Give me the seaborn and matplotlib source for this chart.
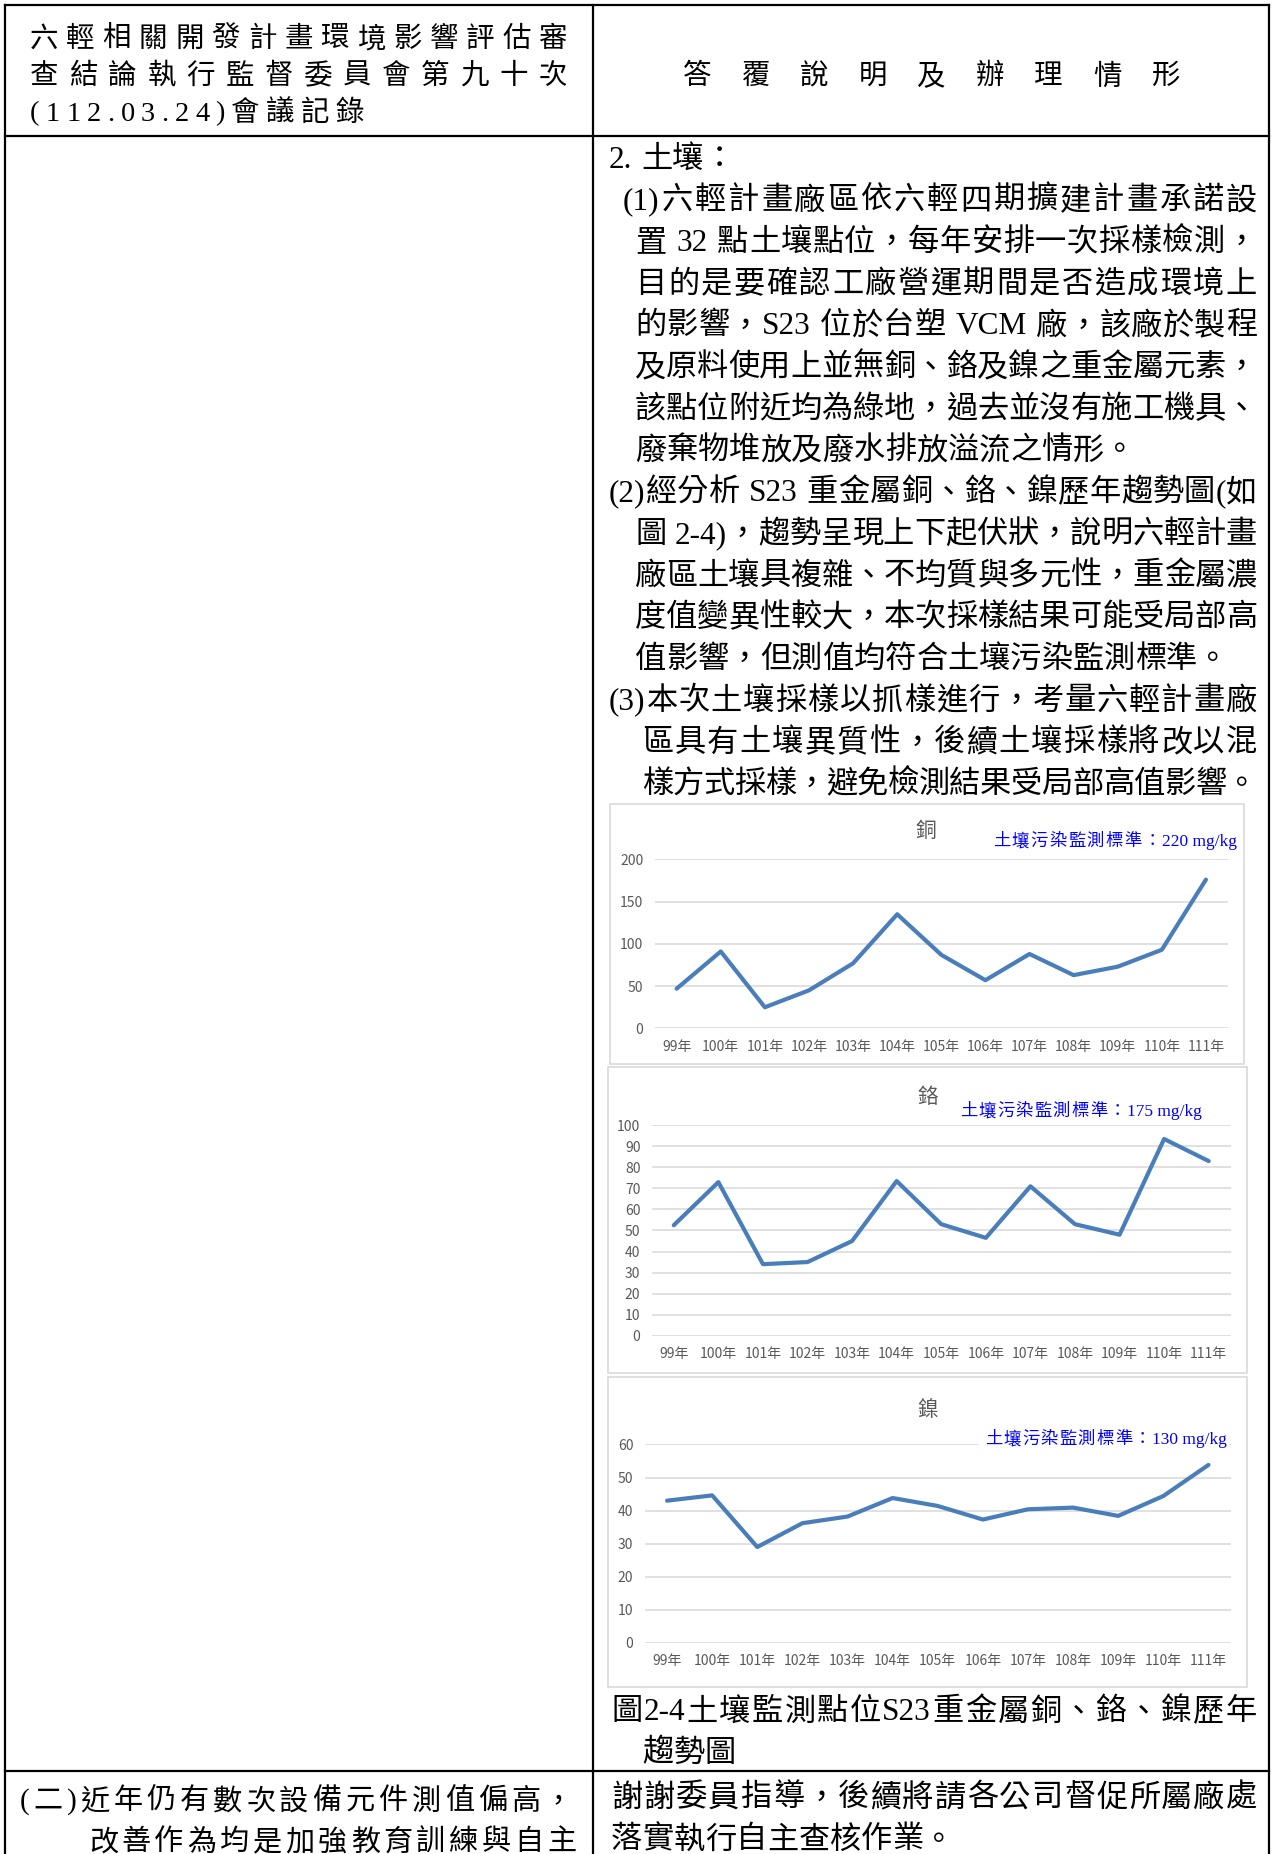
import re
import matplotlib.pyplot as plt
from matplotlib.patches import Rectangle
import seaborn as sns
import pandas as pd

# chart data
years = ['99年', '100年', '101年', '102年', '103年', '104年', '105年',
         '106年', '107年', '108年', '109年', '110年', '111年']
copper = [47, 91, 25, 45, 77, 135, 87, 57, 88, 63, 73, 93, 176]
chromium = [52.5, 73, 34, 35, 45, 73.5, 53, 46.5, 71, 53, 48, 93.5, 83]
nickel = [43, 44.6, 29, 36.2, 38.2, 43.8, 41.4, 37.3, 40.4, 40.9, 38.4, 44.4, 53.8]
metal_names = ['銅', '鉻', '鎳']
standards = ['220', '175', '130']
y_max = [200, 100, 60]
y_step = [50, 10, 10]

header_left = ['六輕相關開發計畫環境影響評估審', '查結論執行監督委員會第九十次', '(112.03.24)會議記錄']
header_right = '答覆說明及辦理情形'
body_lines = [
    '2. 土壤：',
    '(1)六輕計畫廠區依六輕四期擴建計畫承諾設',
    '置 32 點土壤點位，每年安排一次採樣檢測，',
    '目的是要確認工廠營運期間是否造成環境上',
    '的影響，S23 位於台塑 VCM 廠，該廠於製程',
    '及原料使用上並無銅、鉻及鎳之重金屬元素，',
    '該點位附近均為綠地，過去並沒有施工機具、',
    '廢棄物堆放及廢水排放溢流之情形。',
    '(2)經分析 S23 重金屬銅、鉻、鎳歷年趨勢圖(如',
    '圖 2-4)，趨勢呈現上下起伏狀，說明六輕計畫',
    '廠區土壤具複雜、不均質與多元性，重金屬濃',
    '度值變異性較大，本次採樣結果可能受局部高',
    '值影響，但測值均符合土壤污染監測標準。',
    '(3)本次土壤採樣以抓樣進行，考量六輕計畫廠',
    '區具有土壤異質性，後續土壤採樣將改以混',
    '樣方式採樣，避免檢測結果受局部高值影響。',
]
body_x = [609, 623, 635, 635, 635, 635, 635, 635, 609, 635, 635, 635, 635, 609, 642, 642]
body_justify = [False, True, True, True, True, True, True, False,
                True, True, True, True, False, True, True, True]
caption = ['圖2-4土壤監測點位S23重金屬銅、鉻、鎳歷年', '趨勢圖']
row2_left = ['(二)近年仍有數次設備元件測值偏高，', '改善作為均是加強教育訓練與自主']
row2_right = ['謝謝委員指導，後續將請各公司督促所屬廠處', '落實執行自主查核作業。']

sns.set_theme(style='white')
plt.rcParams['font.family'] = ['Noto Sans CJK TC', 'DejaVu Sans']
BODY = ['Liberation Serif', 'Noto Sans CJK TC']

W, H = 1273, 1854
DY = 4  # small downward nudge for all page text
fig = plt.figure(figsize=(W / 100, H / 100), dpi=100)
fig.patch.set_facecolor('white')

# page layer in pixel coordinates, drawn above the charts
page = fig.add_axes([0, 0, 1, 1])
page.set_xlim(0, W)
page.set_ylim(H, 0)
page.axis('off')
page.patch.set_visible(False)
page.set_zorder(5)
renderer = fig.canvas.get_renderer()


def put_line(s, x0, y, size, x1=None, fam=BODY, color='black', per_char=False):
    if per_char:
        toks = list(s)
    else:
        toks = re.findall(r'[!-~](?:[ -~]*[!-~])?| +|.', s)
    items = []
    for t in toks:
        if t.strip() == '':
            items.append((None, size * 100 / 72 * 0.28 * len(t)))
            continue
        txt = page.text(0, y + DY, t, fontsize=size, family=fam, color=color,
                        va='center', ha='left')
        items.append((txt, txt.get_window_extent(renderer).width))
    gap = 0
    if x1 is not None and len(items) > 1:
        gap = (x1 - x0 - sum(w for _, w in items)) / (len(items) - 1)
    x = x0
    for txt, w in items:
        if txt is not None:
            txt.set_x(x)
        x += w + gap


# table rules
lw = 1.6
for xs, ys in [([5, 1269], [5, 5]), ([5, 1269], [136, 136]), ([5, 1269], [1771, 1771]),
               ([5, 5], [5, H]), ([1269, 1269], [5, H]), ([593, 593], [5, H])]:
    page.plot(xs, ys, color='black', lw=lw, solid_capstyle='projecting')

# header
put_line(header_left[0], 30, 36, 20.5, x1=567, per_char=True)
put_line(header_left[1], 30, 73, 20.5, x1=567, per_char=True)
put_line(header_left[2], 30, 110, 20.5, x1=364, per_char=True)
put_line(header_right, 683, 73, 20.5, x1=1180, per_char=True)

# body text
for i, (s, x0, just) in enumerate(zip(body_lines, body_x, body_justify)):
    put_line(s, x0, 156 + i * 41.7, 22.5, x1=1257 if just else None)

put_line(caption[0], 611, 1709, 22.5, x1=1257)
put_line(caption[1], 642, 1750, 22.5)
put_line(row2_left[0], 20, 1798, 21, x1=573, per_char=True)
put_line(row2_left[1], 89, 1839, 21, x1=576, per_char=True)
put_line(row2_right[0], 611, 1795, 22.5, x1=1257)
put_line(row2_right[1], 611, 1837, 22.5)

# charts
series = [copper, chromium, nickel]
frames = [(610, 804, 1244, 1064), (608, 1067, 1247, 1373), (608, 1377, 1247, 1687)]
plot_boxes = [(654.6, 859.3, 1228, 1028.4), (651.5, 1125.3, 1231, 1335.7), (644.5, 1444.4, 1231, 1643)]
title_pos = [(926, 827), (928, 1093), (928, 1406)]
note_pos = [(993, 1237, 838), (960, 1202, 1108), (985, 1227, 1436)]
line_color = '#4A7EBB'

for k in range(3):
    fx0, fy0, fx1, fy1 = frames[k]
    page.add_patch(Rectangle((fx0, fy0), fx1 - fx0, fy1 - fy0, fill=False,
                             edgecolor='#D9D9D9', lw=1.2))
    x0, y0, x1, y1 = plot_boxes[k]
    ax = fig.add_axes([x0 / W, 1 - y1 / H, (x1 - x0) / W, (y1 - y0) / H])
    ax.patch.set_visible(False)
    df = pd.DataFrame({'year': years, 'value': series[k]})
    sns.lineplot(data=df, x='year', y='value', ax=ax, color=line_color,
                 linewidth=3, sort=False)
    ax.set_xlim(-0.5, len(years) - 0.5)
    ax.set_ylim(0, y_max[k])
    ax.set_yticks(range(0, y_max[k] + 1, y_step[k]))
    ax.grid(axis='y', color='#D9D9D9', lw=1.1)
    ax.grid(axis='x', visible=False)
    ax.set_axisbelow(True)
    for sp in ax.spines.values():
        sp.set_visible(False)
    ax.tick_params(length=0, colors='#595959', labelsize=10, pad=8)
    ax.set_xlabel('')
    ax.set_ylabel('')

    tx, ty = title_pos[k]
    page.text(tx, ty + DY, metal_names[k], fontsize=15, color='#595959',
              ha='center', va='center', family=['Noto Sans CJK TC'])
    nx0, nx1, ny = note_pos[k]
    if k == 2:
        page.add_patch(Rectangle((nx0 - 6, ny - 12), nx1 - nx0 + 8, 30,
                                 facecolor='white', edgecolor='none'))
    put_line('土壤污染監測標準：' + standards[k] + ' mg/kg', nx0, ny, 12.5,
             x1=nx1, color='#0000FF')

fig.savefig('out.png', dpi=100)
